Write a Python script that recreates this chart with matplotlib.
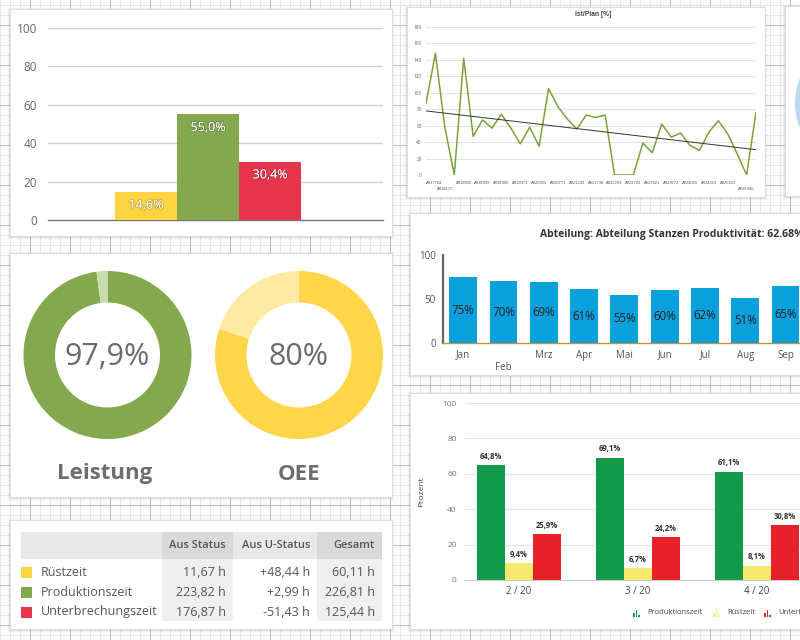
import numpy as np
import matplotlib
matplotlib.use('Agg')
import matplotlib.pyplot as plt
from matplotlib.patches import Rectangle, Circle
import matplotlib.patheffects as pe

plt.rcParams['font.family'] = ['Open Sans', 'DejaVu Sans']

W, H = 800, 640

# ---------------- data ----------------
share_cats = ['Rüstzeit', 'Produktionszeit', 'Unterbrechungszeit']
share_vals = [14.6, 55.0, 30.4]
share_colors = ['#fdd540', '#84a84d', '#e8354d']

gauge_labels = ['Leistung', 'OEE']
gauge_vals = [97.9, 80.0]
gauge_texts = ['97,9%', '80%']
gauge_colors = [('#84a84d', '#c9dbaf'), ('#ffd54a', '#ffe9a3')]

table_rows = ['Rüstzeit', 'Produktionszeit', 'Unterbrechungszeit']
table_cols = ['Aus Status', 'Aus U-Status', 'Gesamt']
aus_status = [11.67, 223.82, 176.87]
aus_u_status = [48.44, 2.99, -51.43]
gesamt = [60.11, 226.81, 125.44]

order_labels = ['A017764', 'A018177', 'A018850', 'A018899', 'A018900', 'A019471',
                'A020253', 'A020771', 'A021232', 'A021738', 'A022299', 'A022702',
                'A023421', 'A023572', 'A024025', 'A024613', 'A025223', 'A025940']
ist_plan = [87, 148, 58, 0, 142, 47, 67, 57, 74, 57, 38, 58, 35, 105, 83, 68, 56, 73,
            70, 73, 0, 0, 0, 39, 27, 62, 46, 51, 36, 30, 52, 66, 50, 26, 0, 76]

months = ['Jan', 'Feb', 'Mrz', 'Apr', 'Mai', 'Jun', 'Jul', 'Aug', 'Sep']
produktivitaet = [75, 70, 69, 61, 55, 60, 62, 51, 65]

periods = ['2 / 20', '3 / 20', '4 / 20']
series_names = ['Produktionszeit', 'Rüstzeit', 'Unterbrechungszeit']
produktionszeit = [64.8, 69.1, 61.1]
ruestzeit = [9.4, 6.7, 8.1]
unterbrechung = [25.9, 24.2, 30.8]
series_colors = ['#12994a', '#f5e96e', '#e8202a']


def de(v, nd=1):
    return f"{v:.{nd}f}".replace('.', ',')


# ---------------- figure & background ----------------
fig = plt.figure(figsize=(8, 6.4), dpi=100)
bg = fig.add_axes([0, 0, 1, 1], zorder=0)
bg.set_xlim(0, W)
bg.set_ylim(H, 0)
bg.axis('off')
bg.add_patch(Rectangle((0, 0), W, H, facecolor='#fbfbfb', edgecolor='none'))
for x in np.arange(0, W + 1, 10):
    bg.axvline(x, color='#e3e3e3', lw=0.6, zorder=1)
for y in np.arange(5, H + 1, 10):
    bg.axhline(y, color='#e3e3e3', lw=0.6, zorder=1)
for x in np.arange(30, W + 1, 40):
    bg.axvline(x, color='#bdbdbd', lw=0.7, zorder=1)
for y in np.arange(25, H + 1, 40):
    bg.axhline(y, color='#bdbdbd', lw=0.7, zorder=1)


def card(x0, y0, x1, y1):
    for d, a in [(3, 0.04), (2, 0.06), (1, 0.09)]:
        bg.add_patch(Rectangle((x0 - d + 1, y0 - d + 2), x1 - x0 + 2 * d - 2,
                               y1 - y0 + 2 * d - 2, facecolor='black', alpha=a,
                               edgecolor='none', zorder=2))
    bg.add_patch(Rectangle((x0, y0), x1 - x0, y1 - y0, facecolor='white',
                           edgecolor='#dcdcdc', lw=0.6, zorder=3))


def px_axes(x0, y0, x1, y1, **kw):
    return fig.add_axes([x0 / W, 1 - y1 / H, (x1 - x0) / W, (y1 - y0) / H], **kw)


card(10, 9, 392, 236)
card(10, 253, 392, 497)
card(10, 520, 392, 629)
card(407, 7, 765, 197)
card(785, 6, 815, 196)
card(410, 213, 815, 375)
card(410, 393, 815, 629)
bg.add_patch(Circle((860, 103), 65, facecolor='#bcd8ec', edgecolor='none', zorder=4))

# ---------------- 1: share bar chart ----------------
ax1 = px_axes(48, 28, 383, 220, zorder=5)
ax1.patch.set_alpha(0)
xs = np.arange(len(share_vals))
ax1.bar(xs, share_vals, width=1.0, color=share_colors, zorder=3)
ax1.set_xlim(-1.58, 3.82)
ax1.set_ylim(0, 100)
ax1.set_yticks(np.arange(0, 101, 20))
ax1.yaxis.grid(True, color='#cfcfcf', lw=1.0, zorder=0)
ax1.set_xticks([])
for s in ['top', 'right', 'left']:
    ax1.spines[s].set_visible(False)
ax1.spines['bottom'].set_color('#777777')
ax1.spines['bottom'].set_linewidth(1.0)
ax1.tick_params(axis='y', length=0, pad=8, labelsize=8.5, labelcolor='#666666')
for x, v in zip(xs, share_vals):
    ax1.annotate(de(v) + '%', xy=(x, v), xytext=(0, -9.5), textcoords='offset points',
                 ha='center', va='center', color='white', fontsize=9, fontweight='medium',
                 path_effects=[pe.withStroke(linewidth=1.2, foreground=(0, 0, 0, 0.22))], zorder=4)

# ---------------- 2: donuts ----------------
centers = [(107.5, 355), (299, 355)]
R = 84
for (cx, cy), val, txt, lab, (c1, c2) in zip(centers, gauge_vals, gauge_texts, gauge_labels, gauge_colors):
    axd = px_axes(cx - R, cy - R, cx + R, cy + R, zorder=5)
    axd.pie([val, 100 - val], colors=[c1, c2], startangle=90, counterclock=False,
            radius=1, wedgeprops=dict(width=0.375, edgecolor='none'))
    axd.set_xlim(-1, 1)
    axd.set_ylim(-1, 1)
    axd.text(0, -0.02, txt, ha='center', va='center', fontsize=22, color='#6b6b6b')
    bg.text(cx - 3 if lab == 'Leistung' else cx, 474, lab, ha='center', va='center',
            fontsize=16, fontweight='bold', color='#6d6d6d', zorder=6)

# ---------------- 3: table ----------------
col_bounds = [(21, 162), (162, 233), (233, 317), (317, 382)]
hy0, hy1, by1 = 532, 559, 621
header_fc = ['#e8e8e8', '#d9d9d9', '#e8e8e8', '#d9d9d9']
body_fc = ['white', '#efefef', 'white', '#efefef']
for (cx0, cx1), hf, bf in zip(col_bounds, header_fc, body_fc):
    bg.add_patch(Rectangle((cx0, hy0), cx1 - cx0, hy1 - hy0, facecolor=hf, edgecolor='none', zorder=4))
    bg.add_patch(Rectangle((cx0, hy1), cx1 - cx0, by1 - hy1, facecolor=bf, edgecolor='none', zorder=4))
for (cx0, cx1), name in zip(col_bounds[1:], table_cols):
    bg.text(cx1 - 7, 545, name, ha='right', va='center', fontsize=8,
            fontweight='semibold', color='#555555', zorder=6)
row_y = [572, 592, 612]
for ry, name, col, a, b, g in zip(row_y, table_rows, share_colors, aus_status, aus_u_status, gesamt):
    bg.add_patch(Rectangle((21, ry - 5.5), 11, 11, facecolor=col, edgecolor='none', zorder=5))
    bg.text(41, ry, name, ha='left', va='center', fontsize=9, color='#555555', zorder=6)
    bg.text(226, ry, de(a, 2) + ' h', ha='right', va='center', fontsize=9, color='#555555', zorder=6)
    sgn = '+' if b >= 0 else '-'
    bg.text(310, ry, sgn + de(abs(b), 2) + ' h', ha='right', va='center', fontsize=9, color='#555555', zorder=6)
    bg.text(375, ry, de(g, 2) + ' h', ha='right', va='center', fontsize=9, color='#555555', zorder=6)

# ---------------- 4: Ist/Plan line chart ----------------
ax4 = px_axes(426, 27, 756, 175, zorder=5)
ax4.patch.set_alpha(0)
xi = np.arange(len(ist_plan))
ax4.plot(xi, ist_plan, color='#7aa33c', lw=1.1, zorder=3)
k, d = np.polyfit(xi, ist_plan, 1)
ax4.plot(xi, k * xi + d, color='#333333', lw=0.7, zorder=4)
ax4.set_xlim(0, len(ist_plan) - 1)
ax4.set_ylim(0, 180)
ax4.set_yticks(np.arange(0, 181, 20))
ax4.yaxis.grid(True, color='#e2e2e2', lw=0.7, zorder=0)
ax4.set_xticks([])
for s in ax4.spines.values():
    s.set_visible(False)
ax4.tick_params(axis='y', length=0, pad=3, labelsize=3.4, labelcolor='#666666')
tick_pos = np.arange(0, len(ist_plan), 2)
for j, (p, lab) in enumerate(zip(tick_pos, order_labels)):
    low = j in (1, len(order_labels) - 1)
    ax4.annotate(lab, xy=(p, 0), xycoords=('data', 'axes fraction'),
                 xytext=(0, -10 if low else -5.8), textcoords='offset points',
                 ha='left' if j == 0 else 'center', va='center', fontsize=3.0,
                 color='#555555', family=['Liberation Sans', 'DejaVu Sans'])
fig.text(593 / W, 1 - 15 / H, 'Ist/Plan [%]', ha='center', va='center', fontsize=4.8,
         fontweight='bold', color='#444444', family=['Liberation Sans', 'DejaVu Sans'], zorder=6)

# ---------------- 6: Abteilung bar chart ----------------
ax6 = px_axes(443, 255, 846, 343, zorder=5)
ax6.patch.set_alpha(0)
xm = np.arange(len(months))
ax6.bar(xm, produktivitaet, width=0.69, color='#0aa0dc', zorder=3)
ax6.set_xlim(-0.5, 9.5)
ax6.set_ylim(0, 100)
ax6.set_yticks([0, 50, 100])
ax6.set_xticks([])
for s in ['top', 'right']:
    ax6.spines[s].set_visible(False)
ax6.spines['left'].set_color('#666666')
ax6.spines['left'].set_linewidth(1.6)
ax6.spines['bottom'].set_color('#c8914a')
ax6.spines['bottom'].set_linewidth(1.0)
ax6.tick_params(axis='y', length=0, pad=5, labelsize=7, labelcolor='#555555')
for x, v in zip(xm, produktivitaet):
    ax6.text(x, v / 2, f'{v}%', ha='center', va='center', fontsize=8.3, color='#222222', zorder=4)
for j, (x, m) in enumerate(zip(xm, months)):
    ax6.annotate(m, xy=(x, 0), xycoords=('data', 'axes fraction'),
                 xytext=(0, -18 if j == 1 else -8.7), textcoords='offset points',
                 ha='center', va='center', fontsize=7, color='#555555')
fig.text(540 / W, 1 - 234 / H, 'Abteilung: Abteilung Stanzen Produktivität: 62.68%',
         ha='left', va='center', fontsize=7.5, fontweight='bold', color='#333333', zorder=6)

# ---------------- 7: grouped bar chart ----------------
ax7 = px_axes(465, 403, 864, 580, zorder=5)
ax7.patch.set_alpha(0)
xg = np.arange(len(periods))
bw = 0.235
for k_, (vals, col) in enumerate(zip([produktionszeit, ruestzeit, unterbrechung], series_colors)):
    pos = xg + (k_ - 1) * bw
    ax7.bar(pos, vals, width=bw, color=col, zorder=3)
    for p, v in zip(pos, vals):
        ax7.annotate(de(v) + '%', xy=(p, v), xytext=(0, 6.5), textcoords='offset points',
                     ha='center', va='center', fontsize=5.5, fontweight='bold', color='#333333', zorder=4)
ax7.set_xlim(-0.454, 2.899)
ax7.set_ylim(0, 100)
ax7.set_yticks(np.arange(0, 101, 20))
ax7.yaxis.grid(True, color='#e3e3e3', lw=0.8, zorder=0)
ax7.set_xticks(xg)
ax7.set_xticklabels(periods)
for s in ['top', 'right', 'left']:
    ax7.spines[s].set_visible(False)
ax7.spines['bottom'].set_color('#cccccc')
ax7.tick_params(axis='y', length=0, pad=6, labelsize=6, labelcolor='#777777')
ax7.tick_params(axis='x', length=0, pad=4, labelsize=7, labelcolor='#444444')
ax7.set_ylabel('Prozent', fontsize=6, color='#444444')
ax7.yaxis.set_label_coords(-40 / 399, 0.5)

leg_x = [633, 713, 764]
for lx, name, col in zip(leg_x, series_names, series_colors):
    for bi, hfrac in enumerate([0.6, 1.0, 0.35]):
        h = 7 * hfrac
        bg.add_patch(Rectangle((lx + bi * 2.5, 617 - h), 1.6, h, facecolor=col, edgecolor='none', zorder=6))
    bg.text(lx + 14, 613, name, ha='left', va='center', fontsize=5.5, color='#444444', zorder=6)

fig.savefig('out.png', dpi=100)
